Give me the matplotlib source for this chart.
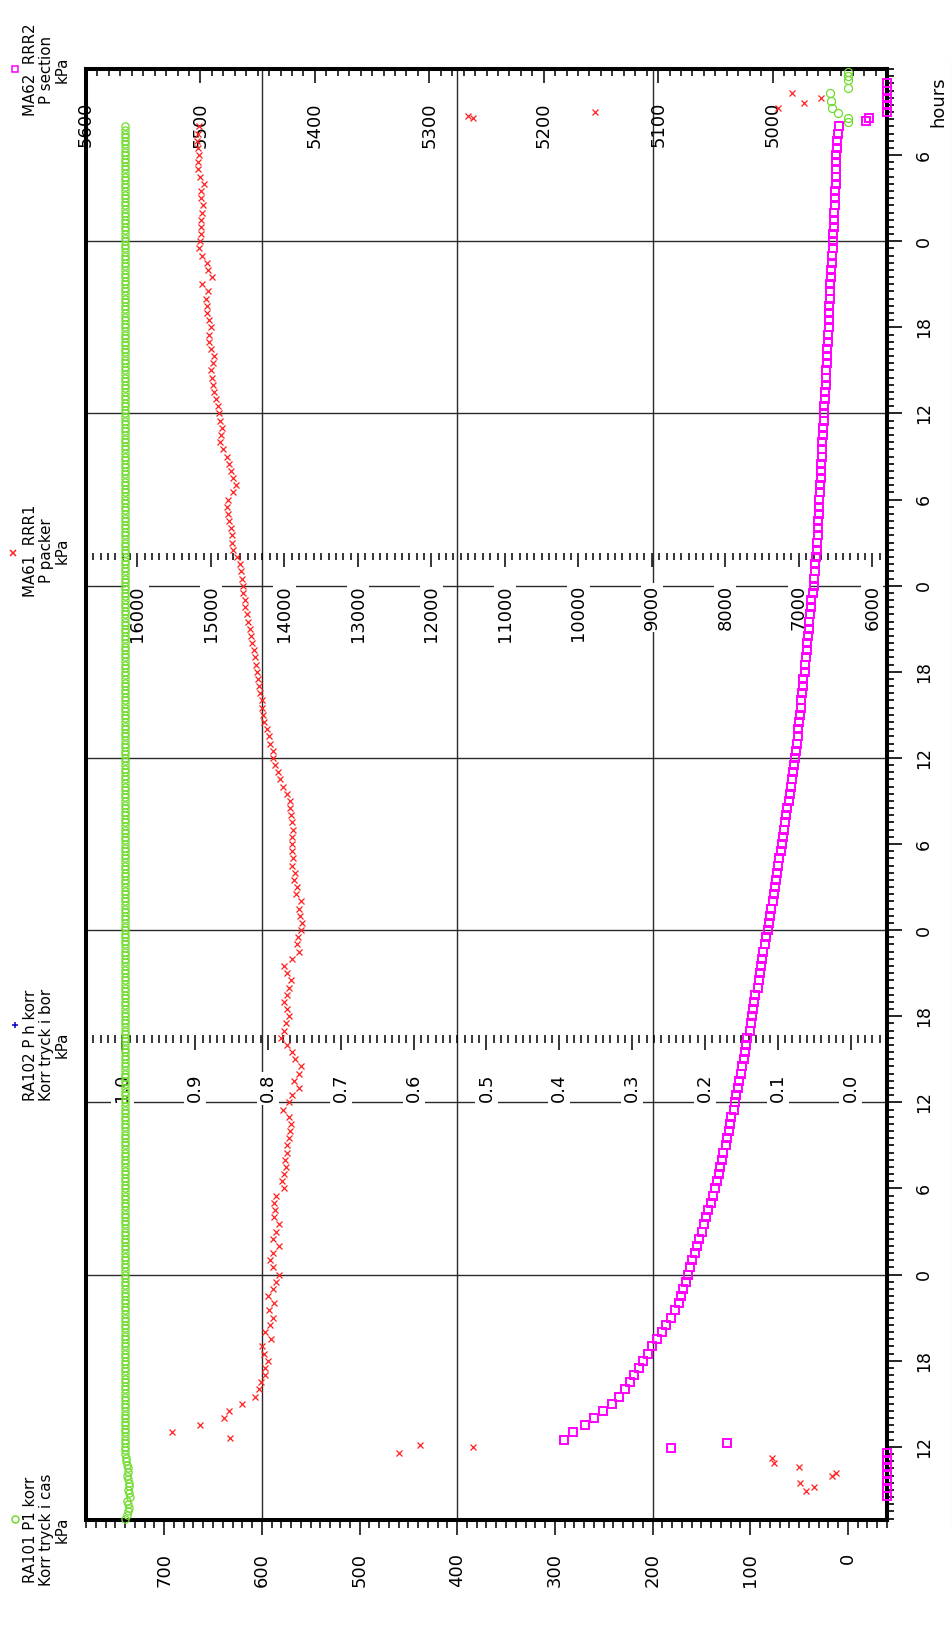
import numpy as np
import matplotlib
matplotlib.use('Agg')
import matplotlib.pyplot as plt
from matplotlib.lines import Line2D

plt.rcParams['font.family'] = ['DejaVu Sans']

# ---------------- data (time in hours, 0 = first midnight) ----------------
# RA101 P1 korr  (green circles, kPa, 0-700 axis), sampled every 0.25 h
green_t0 = -17.0
green_step = 0.25
green_vals = [
    740, 738, 737, 736, 737, 738, 735, 736, 737, 736, 736, 737, 738, 737, 737, 738, 739, 739, 740,
    740, 740, 740, 740, 740, 740, 740, 740, 740, 740, 740, 740, 740, 740, 740, 740, 740, 740, 740, 740, 740, 740, 740, 740,
    740, 740, 740, 740, 740, 740, 740, 740, 740, 740, 740, 740, 740, 740, 740, 740, 740, 740, 740, 740, 740, 740, 740, 740,
    740, 740, 740, 740, 740, 740, 740, 740, 740, 740, 740, 740, 740, 740, 740, 740, 740, 740, 740, 740, 740, 740, 740, 740,
    740, 740, 740, 740, 740, 740, 740, 740, 740, 740, 740, 740, 740, 740, 740, 740, 740, 740, 740, 740, 740, 740, 740, 740,
    740, 740, 740, 740, 740, 740, 740, 740, 740, 740, 740, 740, 740, 740, 740, 740, 740, 740, 740, 740, 740, 740, 740, 740,
    740, 740, 740, 740, 740, 740, 740, 740, 740, 740, 740, 740, 740, 740, 740, 740, 740, 740, 740, 740, 740, 740, 740, 740,
    740, 740, 740, 740, 740, 740, 740, 740, 740, 740, 740, 740, 740, 740, 740, 740, 740, 740, 740, 740, 740, 740, 740, 740,
    740, 740, 740, 740, 740, 740, 740, 740, 740, 740, 740, 740, 740, 740, 740, 740, 740, 740, 740, 740, 740, 740, 740, 740,
    740, 740, 740, 740, 740, 740, 740, 740, 740, 740, 740, 740, 740, 740, 740, 740, 740, 740, 740, 740, 740, 740, 740, 740,
    740, 740, 740, 740, 740, 740, 740, 740, 740, 740, 740, 740, 740, 740, 740, 740, 740, 740, 740, 740, 740, 740, 740, 740,
    740, 740, 740, 740, 740, 740, 740, 740, 740, 740, 740, 740, 740, 740, 740, 740, 740, 740, 740, 740, 740, 740, 740, 740,
    740, 740, 740, 740, 740, 740, 740, 740, 740, 740, 740, 740, 740, 740, 740, 740, 740, 740, 740, 740, 740, 740, 740, 740,
    740, 740, 740, 740, 740, 740, 740, 740, 740, 740, 740, 740, 740, 740, 740, 740, 740, 740, 740, 740, 740, 740, 740, 740,
    740, 740, 740, 740, 740, 740, 740, 740, 740, 740, 740, 740, 740, 740, 740, 740, 740, 740, 740, 740, 740, 740, 740, 740,
    740, 740, 740, 740, 740, 740, 740, 740, 740, 740, 740, 740, 740, 740, 740, 740, 740, 740, 740, 740, 740, 740, 740, 740,
    740, 740, 740, 740, 740, 740, 740, 740, 740, 740,
]
green_end_t = [80.3, 80.6, 80.9, 81.3, 81.8, 82.3, 82.7, 83.2, 83.5, 83.8]
green_end_v = [0, 0, 10, 16, 17, 18, 0, 0, 0, 0]

# MA61 RRR1 P packer (red x, kPa, 6000-16000 axis), every 0.5 h
red_t0 = -11.0
red_step = 0.5
red_vals = [
    15530, 15150, 14820, 14760, 14580, 14400, 14350, 14320, 14270, 14260, 14230,
    14280, 14300, 14180, 14260, 14200, 14160, 14210, 14140, 14230, 14160, 14120,
    14080, 14160, 14190, 14160, 14080, 14160, 14120, 14080, 14140, 14130, 14140, 14120,
    14010, 14030, 14000, 13980, 13990, 13960, 13960, 13940, 13930, 13910, 13940, 14020,
    13940, 13900, 13800, 13870, 13800, 13780, 13850, 13890, 13960, 14050, 14000, 13980,
    13940, 13960, 14000, 13960, 13940, 13910, 13960, 14000, 13900, 13800, 13830, 13820,
    13780, 13760, 13790, 13800, 13780, 13840, 13830, 13870, 13860, 13890, 13880, 13890,
    13900, 13890, 13880, 13900, 13910, 13920, 13930, 13970, 14020, 14060, 14090, 14130,
    14150, 14160, 14190, 14210, 14240, 14280, 14290, 14300, 14310, 14330, 14340, 14360,
    14370, 14390, 14400, 14420, 14440, 14450, 14470, 14490, 14510, 14530, 14540, 14560,
    14570, 14580, 14590, 14600, 14650, 14700, 14710, 14720, 14730, 14750, 14770, 14780,
    14770, 14700, 14660, 14700, 14730, 14760, 14780, 14830, 14870, 14860, 14850, 14870,
    14890, 14910, 14930, 14960, 14970, 14990, 15000, 14970, 14960, 15000, 15030, 15020,
    15000, 15030, 15050, 15060, 15070, 15040, 15120, 14990, 15040, 15050, 15120, 15160,
    15150, 15140, 15130, 15140, 15120, 15110, 15130, 15140, 15100, 15150, 15180, 15170,
    15160, 15180, 15190, 15170, 15160,
]
red_extra_t = [-15.1, -14.8, -14.5, -14.0, -13.8, -13.4, -13.1, -12.8,
               -12.4, -12.0, -11.85, -11.4,
               80.6, 80.7, 81.0, 81.3, 81.6, 82.0, 82.3]
red_extra_v = [6900, 6790, 6980, 6545, 6490, 6995, 7336, 7364,
               12440, 11440, 12160, 14740,
               11440, 11500, 9780, 7280, 6930, 6700, 7090]

# MA62 RRR2 P section (magenta squares, kPa, 4900-5600 axis), every 0.5 h
mag_t0 = -11.5
mag_step = 0.5
mag_vals = [
    5182, 5174, 5164, 5156, 5148, 5140, 5134, 5129, 5125, 5121, 5117, 5113,
    5109, 5105, 5101, 5097, 5093, 5089, 5085, 5082, 5080, 5078, 5076,
    5074, 5072, 5070, 5068, 5066, 5064, 5062, 5060, 5058, 5056, 5054, 5052,
    5050, 5049, 5047, 5046, 5044, 5043, 5041, 5040, 5038, 5037, 5036, 5034,
    5033, 5032, 5030, 5029, 5028, 5027, 5025, 5024, 5023, 5022, 5020, 5019,
    5018, 5017, 5016, 5015, 5013, 5012, 5011, 5010, 5009, 5008, 5007, 5006,
    5004, 5003, 5002, 5001, 5000, 4999, 4998, 4997, 4996, 4995, 4994, 4993,
    4992, 4991, 4990, 4989, 4988, 4987, 4986, 4985, 4984, 4983, 4982, 4981,
    4980, 4979.5, 4979, 4978, 4977.5, 4977, 4976, 4975.5, 4975, 4974, 4973.5, 4973,
    4972, 4971.5, 4971, 4970, 4969.5, 4969, 4968.5, 4968, 4967, 4966.5, 4966, 4965,
    4964, 4963.5, 4963, 4962.5, 4962, 4961.5, 4961, 4960.7, 4960.4, 4960, 4959.7, 4959.4,
    4959, 4958.7, 4958.4, 4958, 4957.7, 4957.4, 4957, 4956.7, 4956.4, 4956, 4955.7, 4955.4,
    4955, 4954.7, 4954.4, 4954, 4953.7, 4953.4, 4953, 4952.7, 4952.4, 4952, 4951.7, 4951.4,
    4951, 4950.8, 4950.6, 4950.4, 4950.2, 4950, 4949.6, 4949.2, 4948.8, 4948.4, 4948, 4947.6,
    4947.3, 4947, 4946.7, 4946.4, 4946.1, 4945.8, 4945.5, 4945.2, 4945, 4944.8, 4944.6, 4944.4,
    4944.2, 4944, 4943.4, 4942.8, 4942.2,
]
mag_extra_t = [-15.4, -14.9, -14.4, -13.9, -13.4, -12.9, -12.4, -12.07, -11.76,
               80.4, 80.6, 81.0, 81.5, 82.0, 82.5, 83.0]
mag_extra_v = [4900, 4900, 4900, 4900, 4900, 4900, 4900, 5089, 5040,
               4918, 4916, 4900, 4900, 4900, 4900, 4900]

# ---------------- axes definitions ----------------
time_lim = (-17.1, 84.0)
time_ticks = [-12, -6, 0, 6, 12, 18, 24, 30, 36, 42, 48, 54, 60, 66, 72, 78]
time_labels = ['12', '18', '0', '6', '12', '18', '0', '6', '12', '18', '0', '6', '12', '18', '0', '6']
time_grid = [0, 12, 24, 36, 48, 60, 72]

ra101_lim = (780, -40)
ra101_ticks = [0, 100, 200, 300, 400, 500, 600, 700]
ra101_grid = [200, 400, 600]

ra102_lim = (1.05, -0.05)
ra102_ticks = [0.0, 0.1, 0.2, 0.3, 0.4, 0.5, 0.6, 0.7, 0.8, 0.9, 1.0]
ra102_labels = ['0.0', '0.1', '0.2', '0.3', '0.4', '0.5', '0.6', '0.7', '0.8', '0.9', '1.0']

ma61_lim = (16700, 5800)
ma61_ticks = [6000, 7000, 8000, 9000, 10000, 11000, 12000, 13000, 14000, 15000, 16000]

ma62_lim = (5600, 4900)
ma62_ticks = [5000, 5100, 5200, 5300, 5400, 5500, 5600]

GREEN = '#6fdc2c'
RED = '#ff2020'
MAGENTA = '#ff00ff'
BLUE = '#0000cc'

# ---------------- figure ----------------
W, H = 953, 1630
fig = plt.figure(figsize=(W / 100, H / 100), dpi=100)
L, R, T, B = 86, 887, 69, 1520
rect = [L / W, 1 - B / H, (R - L) / W, (B - T) / H]


def fx(px):
    return px / W


def fy(py):
    return 1 - py / H


def frac_y(py):
    return (B - py) / (B - T)


PT = 0.72  # points per pixel

# base axes: RA101 bottom axis, time axis, grid, frame
ax0 = fig.add_axes(rect, zorder=1)
ax0.set_xlim(*ra101_lim)
ax0.set_ylim(*time_lim)
for s in ax0.spines.values():
    s.set_linewidth(2.9)
    s.set_color('black')
for v in ra101_grid:
    ax0.axvline(v, color='#2a2a2a', lw=1.0, zorder=0)
for t in time_grid:
    ax0.axhline(t, color='#2a2a2a', lw=1.0, zorder=0)
ax0.set_xticks(ra101_ticks, [str(v) for v in ra101_ticks])
ax0.set_xticks(np.arange(ra101_lim[1], ra101_lim[0] + 1, 10), minor=True)
ax0.tick_params(axis='x', which='major', direction='out', length=15 * PT, width=1.1,
                pad=18 * PT, labelsize=13, labelrotation=90)
ax0.tick_params(axis='x', which='minor', direction='out', length=8 * PT, width=1.1)
ax0.yaxis.tick_right()
ax0.set_yticks(time_ticks, time_labels)
ax0.set_yticks(np.arange(-17.0, 84.01, 0.5), minor=True)
ax0.tick_params(axis='y', which='major', direction='out', length=15 * PT, width=1.2,
                pad=13 * PT, labelsize=12.5, labelrotation=90)
ax0.tick_params(axis='y', which='minor', direction='out', length=7 * PT, width=1.2)
for lab in ax0.get_yticklabels():
    lab.set_va('center')


def value_axis(lim, ypix, ticks, labels, minor_step, major_len, minor_len, pad, boxed):
    a = fig.add_axes(rect, zorder=2)
    a.patch.set_visible(False)
    a.set_xlim(*lim)
    a.set_ylim(*time_lim)
    for s in ['top', 'left', 'right']:
        a.spines[s].set_visible(False)
    a.spines['bottom'].set_position(('axes', frac_y(ypix)))
    a.spines['bottom'].set_color('none')
    a.yaxis.set_visible(False)
    a.set_xticks(ticks, labels)
    lo, hi = min(lim), max(lim)
    a.set_xticks(np.arange(lo, hi + minor_step * 0.01, minor_step), minor=True)
    a.tick_params(axis='x', which='major', direction='out', length=major_len * PT,
                  width=1.1, pad=pad * PT, labelsize=13, labelrotation=90, color='black')
    a.tick_params(axis='x', which='minor', direction='out', length=minor_len * PT,
                  width=1.1, color='black')
    if boxed:
        for lab in a.get_xticklabels():
            lab.set_bbox(dict(facecolor='white', edgecolor='none', pad=1.5))
    return a


# MA62 axis along the top frame (ticks pointing into the plot)
value_axis(ma62_lim, T, ma62_ticks, [str(v) for v in ma62_ticks], 10, 14, 7, 19, False)
# MA61 inner axis
value_axis(ma61_lim, 553, ma61_ticks, [str(v) for v in ma61_ticks], 100, 14, 7, 18, True)
# RA102 inner axis
value_axis(ra102_lim, 1035, ra102_ticks, ra102_labels, 0.01, 15, 8, 24, True)


def data_axis(lim):
    a = fig.add_axes(rect, zorder=3)
    a.patch.set_visible(False)
    a.set_xlim(*lim)
    a.set_ylim(*time_lim)
    a.set_axis_off()
    return a


# green RA101
axg = data_axis(ra101_lim)
tg = green_t0 + green_step * np.arange(len(green_vals))
axg.plot(green_vals, tg, ls='none', marker='o', ms=5.2, mfc='none', mec=GREEN, mew=0.9, clip_on=False)
axg.plot(green_end_v, green_end_t, ls='none', marker='o', ms=5.8, mfc='none', mec=GREEN, mew=0.9, clip_on=False)

# red MA61
axr = data_axis(ma61_lim)
tr = red_t0 + red_step * np.arange(len(red_vals))
axr.plot(red_vals, tr, ls='none', marker='x', ms=5.0, mec=RED, mew=0.9, clip_on=False)
axr.plot(red_extra_v, red_extra_t, ls='none', marker='x', ms=5.0, mec=RED, mew=0.9, clip_on=False)

# magenta MA62
axm = data_axis(ma62_lim)
tm = mag_t0 + mag_step * np.arange(len(mag_vals))
axm.plot(mag_vals, tm, ls='none', marker='s', ms=6.0, mfc='none', mec=MAGENTA, mew=1.4, clip_on=False)
axm.plot(mag_extra_v, mag_extra_t, ls='none', marker='s', ms=6.0, mfc='none', mec=MAGENTA, mew=1.4, clip_on=False)

# ---------------- legend / axis captions (rotated) ----------------
captions = [
    ('s', MAGENTA, (15, 69), 70, ['MA62  RRR2', 'P section', 'kPa']),
    ('x', RED, (13, 553), 551, ['MA61  RRR1', 'P packer', 'kPa']),
    ('+', BLUE, (15, 1025), 1045, ['RA102 P h korr', 'Korr tryck i bor', 'kPa']),
    ('o', GREEN, (15, 1519), 1530, ['RA101 P1 korr', 'Korr tryck i cas', 'kPa']),
]
line_x = [30.5, 46.5, 62.5]
for mk, col, (mx, my), yc, lines in captions:
    fig.add_artist(Line2D([fx(mx)], [fy(my)], transform=fig.transFigure, ls='none',
                          marker=mk, ms=5.0, mfc='none', mec=col, mew=1.1))
    for lx, txt in zip(line_x, lines):
        fig.text(fx(lx), fy(yc), txt, rotation=90, ha='center', va='center', fontsize=10.8)

fig.text(fx(938), fy(102), 'hours', rotation=90, ha='center', va='center', fontsize=13)
fig.add_artist(Line2D([fx(952), fx(952)], [fy(60), fy(1527)], transform=fig.transFigure,
                      color='#bdbdbd', lw=0.8))

fig.savefig('out.png', dpi=100, facecolor='white')
